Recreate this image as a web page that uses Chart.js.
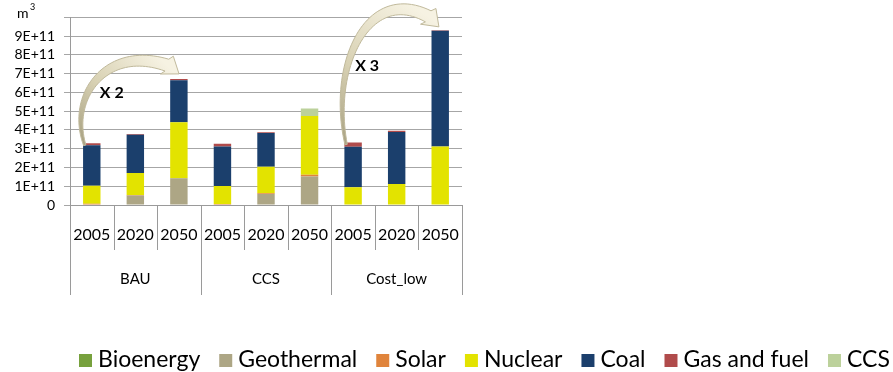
<!DOCTYPE html>
<html>
<head>
<meta charset="utf-8">
<title>Water demand by source</title>
<script src="https://cdn.jsdelivr.net/npm/chart.js@4.4.0/dist/chart.umd.min.js"></script>
<style>
  html, body { margin: 0; padding: 0; background: #fff; }
  #wrap { width: 893px; height: 372px; position: relative; }
</style>
</head>
<body>
<div id="wrap"><canvas id="chart" width="893" height="372"></canvas></div>
<script>
'use strict';

const FONT = 'Lato, "Open Sans", sans-serif';

let years = ['2005', '2020', '2050', '2005', '2020', '2050', '2005', '2020', '2050'];
let scenarios = ['BAU', 'CCS', 'Cost_low'];

// values in m3, one entry per scenario/year column
let bioenergy = [0, 0, 0.03e11, 0, 0, 0, 0, 0, 0];
let geothermal = [0, 0.50e11, 1.39e11, 0, 0.58e11, 1.52e11, 0, 0, 0.02e11];
let solar = [0.06e11, 0.03e11, 0, 0.05e11, 0.04e11, 0.09e11, 0.02e11, 0.02e11, 0];
let nuclear = [0.97e11, 1.17e11, 2.99e11, 0.96e11, 1.42e11, 3.13e11, 0.92e11, 1.10e11, 3.10e11];
let coal = [2.16e11, 2.05e11, 2.24e11, 2.11e11, 1.80e11, 0, 2.16e11, 2.77e11, 6.17e11];
let gasFuel = [0.10e11, 0.04e11, 0.06e11, 0.14e11, 0.04e11, 0, 0.23e11, 0.07e11, 0.02e11];
let ccs = [0, 0, 0, 0, 0, 0.41e11, 0, 0, 0];

// growth arrows: from column -> to column, with their label
let arrows = [
    { from: 0, to: 2, text: 'X 2' },
    { from: 6, to: 8, text: 'X 3' }
];

function stackTop(i) {
    return bioenergy[i] + geothermal[i] + solar[i] + nuclear[i] + coal[i] + gasFuel[i] + ccs[i];
}

function makeSet(label, data, color) {
    return {
        label: label,
        data: data,
        backgroundColor: color,
        borderWidth: 0,
        barPercentage: 0.4,
        categoryPercentage: 1.0
    };
}

// category axis with the scenario grouping underneath
const groupAxis = {
    id: 'groupAxis',
    afterDraw(chart) {
        const ctx = chart.ctx;
        const x = chart.scales.x;
        const area = chart.chartArea;
        const step = (area.right - area.left) / years.length;
        ctx.save();
        ctx.strokeStyle = '#9a9a9a';
        ctx.lineWidth = 1;
        for (let i = 0; i <= years.length; i++) {
            const px = Math.round(area.left + i * step) + 0.5;
            const deep = i % 3 === 0;
            ctx.beginPath();
            ctx.moveTo(px, area.bottom);
            ctx.lineTo(px, area.bottom + (deep ? 90 : 45));
            ctx.stroke();
        }
        ctx.fillStyle = '#000';
        ctx.textAlign = 'center';
        ctx.textBaseline = 'middle';
        ctx.font = '16px ' + FONT;
        years.forEach((y, i) => {
            ctx.fillText(y, x.getPixelForValue(i), area.bottom + 30);
        });
        ctx.font = '15px ' + FONT;
        scenarios.forEach((s, g) => {
            ctx.fillText(s, x.getPixelForValue(g * 3 + 1), area.bottom + 74);
        });
        // unit label above the value axis
        ctx.textAlign = 'left';
        ctx.font = '14px ' + FONT;
        ctx.fillText('m', 17, 13);
        ctx.font = '9px ' + FONT;
        ctx.fillText('3', 30, 7);
        ctx.restore();
    }
};

function bezier(p0, p1, p2, p3, t) {
    const u = 1 - t;
    return {
        x: u * u * u * p0.x + 3 * u * u * t * p1.x + 3 * u * t * t * p2.x + t * t * t * p3.x,
        y: u * u * u * p0.y + 3 * u * u * t * p1.y + 3 * u * t * t * p2.y + t * t * t * p3.y
    };
}

// curved "times" arrows between two stack tops
const growthArrows = {
    id: 'growthArrows',
    afterDatasetsDraw(chart) {
        const ctx = chart.ctx;
        const x = chart.scales.x;
        const y = chart.scales.y;
        ctx.save();
        arrows.forEach(a => {
            const tail = { x: x.getPixelForValue(a.from) - 7, y: y.getPixelForValue(stackTop(a.from)) + 2 };
            const end = { x: x.getPixelForValue(a.to) - 12, y: y.getPixelForValue(stackTop(a.to)) - 14 };
            const dx = end.x - tail.x;
            const dy = tail.y - end.y;
            const c1 = { x: tail.x - 0.2 * dx, y: tail.y - 0.6 * dy };
            const c2 = { x: end.x - 0.75 * dx, y: end.y - 0.25 * dy };
            const n = 50;
            const left = [];
            const right = [];
            for (let k = 0; k <= n; k++) {
                const t = k / n;
                const p = bezier(tail, c1, c2, end, t);
                const q = bezier(tail, c1, c2, end, Math.min(1, t + 0.01));
                const r = bezier(tail, c1, c2, end, Math.max(0, t - 0.01));
                let tx = q.x - r.x, ty = q.y - r.y;
                const len = Math.hypot(tx, ty) || 1;
                tx /= len; ty /= len;
                const w = 1.2 + 5 * t;
                left.push({ x: p.x - ty * w, y: p.y + tx * w });
                right.push({ x: p.x + ty * w, y: p.y - tx * w });
            }
            // head turns a little further down than the body's last tangent
            const pa = bezier(tail, c1, c2, end, 0.96);
            const ang = Math.atan2(end.y - pa.y, end.x - pa.x) + 0.35;
            const hx = Math.cos(ang), hy = Math.sin(ang);
            const headW = 11;
            const grad = ctx.createLinearGradient(tail.x, tail.y, end.x, end.y);
            grad.addColorStop(0, '#aaa384');
            grad.addColorStop(0.45, '#d8d1b3');
            grad.addColorStop(1, '#f6f2e2');
            ctx.beginPath();
            ctx.moveTo(left[0].x, left[0].y);
            left.forEach(p => ctx.lineTo(p.x, p.y));
            ctx.lineTo(end.x - hy * headW, end.y + hx * headW);
            ctx.lineTo(end.x + hx * 15, end.y + hy * 15);
            ctx.lineTo(end.x + hy * headW, end.y - hx * headW);
            for (let k = right.length - 1; k >= 0; k--) ctx.lineTo(right[k].x, right[k].y);
            ctx.closePath();
            ctx.fillStyle = grad;
            ctx.fill();
            ctx.strokeStyle = '#c0b99b';
            ctx.lineWidth = 1;
            ctx.stroke();

            ctx.fillStyle = '#000';
            ctx.font = 'bold 16px ' + FONT;
            ctx.textAlign = 'center';
            ctx.textBaseline = 'middle';
            const lx = a.from === 0 ? tail.x + 27 : tail.x + 21;
            const ly = a.from === 0 ? tail.y - 52 : tail.y - 79;
            ctx.fillText(a.text, lx, ly);
        });
        ctx.restore();
    }
};

// legend laid out across the whole width of the figure
const wideLegend = {
    id: 'wideLegend',
    afterDraw(chart) {
        const ctx = chart.ctx;
        ctx.save();
        ctx.font = '23px ' + FONT;
        ctx.textBaseline = 'middle';
        ctx.textAlign = 'left';
        let px = 79;
        const cy = 360;
        chart.data.datasets.forEach(ds => {
            ctx.fillStyle = ds.backgroundColor;
            ctx.fillRect(px, cy - 6, 13, 13);
            ctx.fillStyle = '#000';
            ctx.fillText(ds.label, px + 19, cy);
            px += 19 + ctx.measureText(ds.label).width + 19;
        });
        ctx.restore();
    }
};

const canvasEl = document.getElementById('chart');

new Chart(canvasEl, {
    type: 'bar',
    data: {
        labels: years,
        datasets: [
            makeSet('Bioenergy', bioenergy, '#77a13d'),
            makeSet('Geothermal', geothermal, '#ada685'),
            makeSet('Solar', solar, '#e0843c'),
            makeSet('Nuclear', nuclear, '#e3e300'),
            makeSet('Coal', coal, '#1b3f6c'),
            makeSet('Gas and fuel', gasFuel, '#b04b4b'),
            makeSet('CCS', ccs, '#bcd19b')
        ]
    },
    options: {
        responsive: false,
        animation: false,
        layout: { padding: { left: 0, right: 431, top: 16, bottom: 159 } },
        plugins: {
            legend: { display: false },
            tooltip: { enabled: false }
        },
        scales: {
            x: {
                stacked: true,
                grid: { display: false },
                ticks: { display: false },
                border: { color: '#9a9a9a' }
            },
            y: {
                stacked: true,
                min: 0,
                max: 1e12,
                afterFit(scale) { scale.width = 70; },
                border: { color: '#9a9a9a' },
                grid: { color: '#a6a6a6', tickLength: 6 },
                ticks: {
                    stepSize: 1e11,
                    autoSkip: false,
                    padding: 9,
                    color: '#000',
                    font: { family: FONT, size: 14 },
                    callback: v => v === 0 ? '0' : (v >= 1e12 ? '' : Math.round(v / 1e11) + 'E+11')
                }
            }
        }
    },
    plugins: [groupAxis, growthArrows, wideLegend]
});
</script>
</body>
</html>
